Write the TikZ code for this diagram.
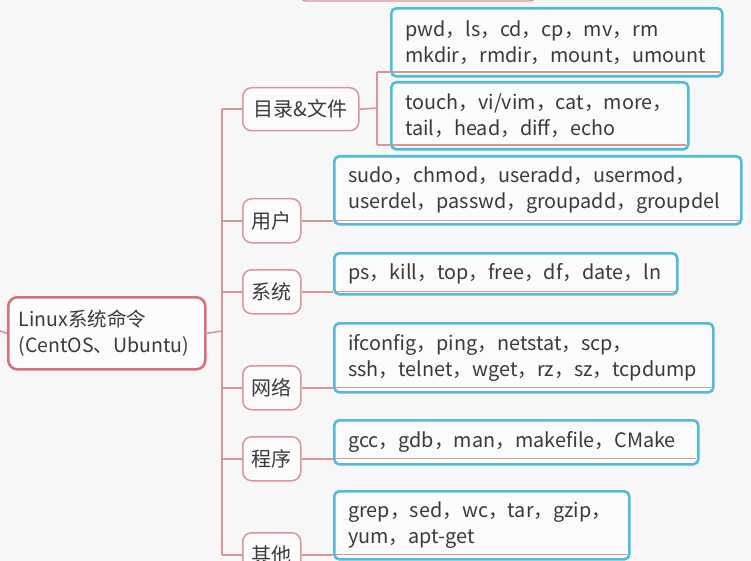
\documentclass[tikz,border=0pt]{standalone}
\usepackage{fontspec}
\setmainfont{Noto Sans CJK SC}
\definecolor{bg}{HTML}{F7F7F7}
\definecolor{pinkln}{HTML}{D9959A}
\definecolor{rootln}{HTML}{DA6F77}
\definecolor{blueln}{HTML}{52BBDA}
\definecolor{txt}{HTML}{3A3A3A}
\tikzset{
  conn/.style={draw=pinkln, line width=1.6pt},
  rootbox/.style={draw=rootln, line width=2.6pt, rounded corners=9pt, fill=white!60!bg, anchor=north west, inner ysep=0pt, inner xsep=0pt, text=txt, font=\fontsize{19.5}{26}\selectfont, align=left},
  catbox/.style={draw=pinkln, line width=1.5pt, rounded corners=9pt, fill=white!50!bg, anchor=north west, inner sep=0pt, text=txt, font=\fontsize{20}{24}\selectfont},
  leafbox/.style={draw=blueln, line width=2.6pt, rounded corners=5pt, fill=white!50!bg, anchor=north west, inner xsep=0pt, inner ysep=0pt, text=txt, font=\fontsize{19.8}{26}\selectfont, align=left},
  uline/.style={draw=pinkln, line width=1.2pt},
}
\begin{document}
\begin{tikzpicture}[x=1pt,y=-1pt]
\useasboundingbox[fill=bg] (0,0) rectangle (751,561);
% partial node at top
\draw[draw=pinkln, line width=1.4pt, rounded corners=6pt] (300,-30) rectangle (536,1);
% root
\node[rootbox, minimum width=197pt, minimum height=72pt, text width=190pt] (root) at (7,296) {\hspace*{7pt}Linux系统命令\\\hspace*{7pt}(CentOS、Ubuntu)};
% categories
\node[catbox, minimum width=116pt, minimum height=43pt] (c1) at (242,87) {目录\&文件};
\node[catbox, minimum width=58pt, minimum height=44pt] (c2) at (242,198) {用户};
\node[catbox, minimum width=58pt, minimum height=44pt] (c3) at (242,269) {系统};
\node[catbox, minimum width=58pt, minimum height=44pt] (c4) at (242,365) {网络};
\node[catbox, minimum width=58pt, minimum height=44pt] (c5) at (242,436) {程序};
\node[catbox, minimum width=58pt, minimum height=44pt] (c6) at (242,532) {其他};
% leaves
\node[leafbox, minimum width=331pt, minimum height=68pt, text width=331pt] (l1a) at (390,7) {\hspace*{14pt}pwd，ls，cd，cp，mv，rm\\\hspace*{14pt}mkdir，rmdir，mount，umount};
\node[leafbox, minimum width=297pt, minimum height=67pt, text width=297pt] (l1b) at (390,81) {\hspace*{14pt}touch，vi/vim，cat，more，\\\hspace*{14pt}tail，head，diff，echo};
\node[leafbox, minimum width=407pt, minimum height=68pt, text width=407pt] (l2) at (333,155) {\hspace*{14pt}sudo，chmod，useradd，usermod，\\\hspace*{14pt}userdel，passwd，groupadd，groupdel};
\node[leafbox, minimum width=343pt, minimum height=41pt, text width=343pt] (l3) at (333,252) {\hspace*{14pt}ps，kill，top，free，df，date，ln};
\node[leafbox, minimum width=379pt, minimum height=69pt, text width=379pt] (l4) at (333,322) {\hspace*{14pt}ifconfig，ping，netstat，scp，\\\hspace*{14pt}ssh，telnet，wget，rz，sz，tcpdump};
\node[leafbox, minimum width=364pt, minimum height=44pt, text width=364pt] (l5) at (333,419) {\hspace*{14pt}gcc，gdb，man，makefile，CMake};
\node[leafbox, minimum width=295pt, minimum height=68pt, text width=295pt] (l6) at (333,490) {\hspace*{14pt}grep，sed，wc，tar，gzip，\\\hspace*{14pt}yum，apt-get};
% trunk
\coordinate (lft) at (0,331);
\coordinate (tr) at (222,331);
\coordinate (st) at (377,108);
\draw[conn] (lft) -- (root.west);
\draw[conn] (root.east) -- (tr);
\draw[conn] (tr |- c1.west) -- (tr |- c6.west);
\foreach \c in {c1,c2,c3,c4,c5,c6} \draw[conn] (tr |- \c.west) -- (\c.west);
% sub-trunk for c1
\draw[conn] (c1.east) -- (st);
\coordinate (s1) at (377,72);
\coordinate (s2) at (377,145);
\draw[conn] (s1) -- (s2);
\draw[conn] (s1) -- (s1 -| l1a.west);
\draw[conn] (s2) -- (s2 -| l1b.west);
% leaf connectors
\draw[conn] (c2.east) -- (c2.east -| l2.west);
\draw[conn] (c3.east) -- (c3.east -| l3.west);
\draw[conn] (c4.east) -- (c4.east -| l4.west);
\draw[conn] (c5.east) -- (c5.east -| l5.west);
\draw[conn] (c6.east) -- (c6.east -| l6.west);
% underlines inside leaves
\draw[uline] ([xshift=2pt]l1a.west |- s1) -- ([xshift=-4pt]l1a.east |- s1);
\draw[uline] ([xshift=2pt]l1b.west |- s2) -- ([xshift=-4pt]l1b.east |- s2);
\foreach \c/\l in {c2/l2,c3/l3,c4/l4,c5/l5,c6/l6}
  \draw[uline] ([xshift=2pt]\l.west |- \c.east) -- ([xshift=-4pt]\l.east |- \c.east);
\end{tikzpicture}
\end{document}
